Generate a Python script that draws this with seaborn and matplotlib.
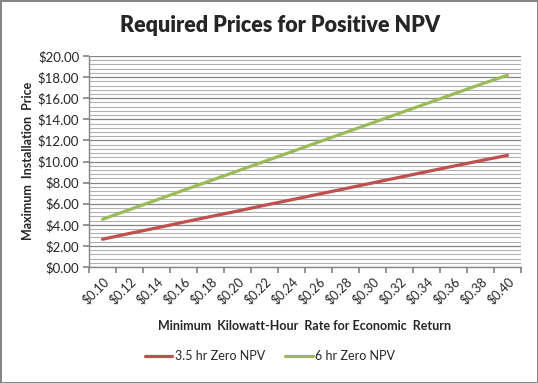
import numpy as np
import pandas as pd
import matplotlib
matplotlib.use("Agg")
import matplotlib.pyplot as plt
import seaborn as sns

sns.set_theme(style="white")
plt.rcParams["font.family"] = ["Lato", "DejaVu Sans"]

RATES = ["$0.10", "$0.12", "$0.14", "$0.16", "$0.18", "$0.20", "$0.22", "$0.24",
         "$0.26", "$0.28", "$0.30", "$0.32", "$0.34", "$0.36", "$0.38", "$0.40"]
NPV_35HR = [2.63, 3.18, 3.70, 4.25, 4.78, 5.30, 5.85, 6.37,
            6.90, 7.43, 7.97, 8.50, 9.03, 9.56, 10.08, 10.58]
NPV_6HR = [4.52, 5.44, 6.35, 7.27, 8.18, 9.10, 10.01, 10.92,
           11.84, 12.75, 13.66, 14.58, 15.49, 16.40, 17.31, 18.18]
SERIES = ["3.5 hr Zero NPV", "6 hr Zero NPV"]
COLORS = ["#C0504D", "#9BBB59"]

pos = np.arange(len(RATES))
df = pd.DataFrame({
    "pos": np.concatenate([pos, pos]),
    "price": NPV_35HR + NPV_6HR,
    "series": [SERIES[0]] * len(RATES) + [SERIES[1]] * len(RATES),
})

fig = plt.figure(figsize=(5.38, 3.83), dpi=100)
fig.patch.set_edgecolor("#868686")
fig.patch.set_linewidth(2)
ax = fig.add_axes([89 / 538, 1 - 267 / 383, (521 - 89) / 538, (267 - 56) / 383])

sns.lineplot(data=df, x="pos", y="price", hue="series", palette=COLORS,
             linewidth=2.3, ax=ax, legend=False)

# gridlines: major every $2, minor every $0.40
ax.set_ylim(0, 20)
ax.set_yticks(np.arange(0, 20.01, 2))
ax.set_yticks(np.arange(0, 20.01, 0.4), minor=True)
ax.set_yticklabels([f"${v:.2f}" for v in np.arange(0, 20.01, 2)], fontsize=9.5)
ax.grid(axis="y", which="major", color="#868686", linewidth=0.9)
ax.grid(axis="y", which="minor", color="#B0B0B0", linewidth=0.8)
ax.set_axisbelow(True)

ax.set_xlim(-0.5, len(RATES) - 0.5)
ax.set_xticks(np.arange(-0.5, len(RATES), 1))
ax.set_xticklabels([])
ax.set_xticks(pos, minor=True)
ax.set_xticklabels(RATES, minor=True, rotation=45, ha="right", rotation_mode="anchor", fontsize=9)
ax.tick_params(axis="x", which="major", direction="out", length=4, color="#868686", bottom=True)
ax.tick_params(axis="x", which="minor", length=0, pad=6)
ax.tick_params(axis="y", which="major", direction="out", length=4, color="#868686", left=True, pad=3)
ax.tick_params(axis="y", which="minor", length=0)

for side in ["top", "right"]:
    ax.spines[side].set_visible(False)
for side in ["left", "bottom"]:
    ax.spines[side].set_color("#868686")
    ax.spines[side].set_linewidth(1)

ax.set_xlabel("")
ax.set_ylabel("")
fig.text(28 / 538, 1 - 161 / 383, "Maximum  Installation  Price", rotation=90,
         ha="center", va="center", fontsize=9, fontweight="bold")
fig.text(305 / 538, 1 - 326 / 383, "Minimum  Kilowatt-Hour  Rate for Economic  Return",
         ha="center", va="center", fontsize=9, fontweight="bold")
fig.text(280 / 538, 1 - 25 / 383, "Required Prices for Positive NPV",
         ha="center", va="center", fontsize=15.5, fontweight="heavy")

handles = [plt.Line2D([], [], color=c, linewidth=2.3) for c in COLORS]
fig.legend(handles, SERIES, loc="center", bbox_to_anchor=(270 / 538, 1 - 356 / 383),
           ncol=2, frameon=False, fontsize=9, handlelength=2.2, handletextpad=0.2,
           columnspacing=1.6)

fig.savefig("out.png", dpi=100)
